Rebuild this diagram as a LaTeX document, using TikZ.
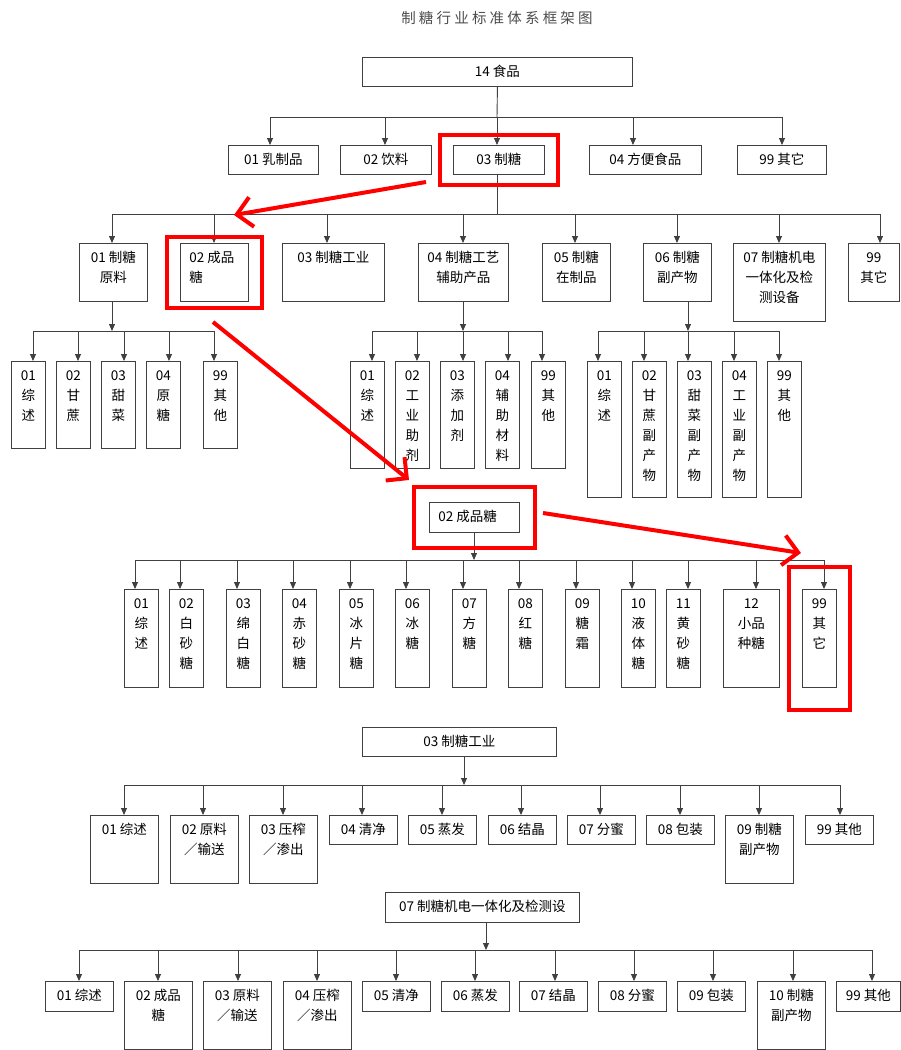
\documentclass[tikz,border=0pt]{standalone}
\usepackage{fontspec}
\setmainfont{Noto Sans CJK SC}
\newfontfamily\titlefont[LetterSpace=22]{Noto Sans CJK SC}
\usetikzlibrary{arrows.meta,fit}
\definecolor{boxgray}{gray}{0.25}
\definecolor{markred}{RGB}{255,0,0}
\newcommand{\cell}[4][\centering]{\parbox[t][#3pt][t]{#2pt}{#1\rule{0pt}{19pt}#4}}

\begin{document}
\begin{tikzpicture}[x=1pt,y=-1pt,>={Triangle[length=7pt,width=6pt]},
  cellbox/.style={draw=boxgray,line width=0.9pt,inner sep=0pt,anchor=north west,font=\fontsize{13.5}{20}\selectfont},
  link/.style={draw=boxgray,line width=0.9pt},
  hilite/.style={draw=markred,line width=4pt,inner sep=0pt},
  markarrow/.style={markred,line width=4pt,-{Straight Barb[length=15pt,width=30pt]}}]
  \useasboundingbox (0,0) rectangle (901,1050);
  \node[font=\titlefont\fontsize{14.5}{16}\selectfont,text=black!70] (title) at (497,18) {制糖行业标准体系框架图};

  % 14 food
  \node[cellbox] (food) at (362,57) {\cell{270}{29}{14 食品}};
  \coordinate (j0) at (497,117);
  \draw[link] (food.south) -- (j0);
  \foreach \n/\bx/\w/\ax/\lbl in {1/228/90/270/{01 乳制品}, 2/340/91/385/{02 饮料}, 3/453/91/497/{03 制糖}, 4/589/112/633/{04 方便食品}, 5/737/89/782/{99 其它}}{
    \node[cellbox] (c\n) at (\bx,145) {\cell{\w}{29}{\lbl}};
    \coordinate (jc\n) at (\ax,117);
    \draw[link,->] (jc\n) -- (jc\n |- c\n.north);
  }
  \draw[link] (jc1) -- (jc5);

  % 03 sugar
  \coordinate (j1) at (497,214);
  \draw[link] (c3.south -| j1) -- (j1);
  \foreach \n/\bx/\w/\h/\ax/\lbl in {1/79/68/58/112/{01 制糖\\原料}, 3/282/102/58/327/{03 制糖工业}, 4/418/90/58/463/{04 制糖工艺\\辅助产品}, 5/542/68/58/575/{05 制糖\\在制品}, 6/643/68/58/677/{06 制糖\\副产物}, 7/733/92/78/779/{07 制糖机电\\一体化及检\\测设备}, 8/848/51/58/880/{99\\其它}}{
    \node[cellbox] (d\n) at (\bx,243) {\cell{\w}{\h}{\lbl}};
    \coordinate (jd\n) at (\ax,214);
    \draw[link,->] (jd\n) -- (jd\n |- d\n.north);
  }
  \node[cellbox] (d2) at (180,243) {\cell[\raggedright\leftskip=9pt]{68}{58}{02 成品\\糖}};
  \coordinate (jd2) at (214,214);
  \draw[link,->] (jd2) -- (jd2 |- d2.north);
  \draw[link] (jd1) -- (jd8);

  % raw material
  \coordinate (ka) at (112,331);
  \draw[link,->] (ka |- d1.south) -- (ka);
  \foreach \n/\bx/\ax/\lbl in {1/11/33/{01\\综\\述}, 2/56/78/{02\\甘\\蔗}, 3/101/124/{03\\甜\\菜}, 4/146/169/{04\\原\\糖}, 5/203/214/{99\\其\\他}}{
    \node[cellbox] (a\n) at (\bx,361) {\cell{34}{87}{\lbl}};
    \coordinate (ja\n) at (\ax,331);
    \draw[link,->] (ja\n) -- (ja\n |- a\n.north);
  }
  \draw[link] (ja1) -- (ja5);

  % auxiliary products
  \coordinate (kb) at (463,331);
  \draw[link,->] (kb |- d4.south) -- (kb);
  \foreach \n/\bx/\ax/\lbl in {1/350/372/{01\\综\\述}, 2/395/417/{02\\工\\业\\助\\剂}, 3/440/463/{03\\添\\加\\剂}, 4/485/508/{04\\辅\\助\\材\\料}, 5/531/542/{99\\其\\他}}{
    \node[cellbox] (b\n) at (\bx,361) {\cell{34}{107}{\lbl}};
    \coordinate (jb\n) at (\ax,331);
    \draw[link,->] (jb\n) -- (jb\n |- b\n.north);
  }
  \draw[link] (jb1) -- (jb5);

  % by-products
  \coordinate (kc) at (688,331);
  \draw[link,->] (kc |- d6.south) -- (kc);
  \foreach \n/\bx/\ax/\lbl in {1/587/598/{01\\综\\述}, 2/632/644/{02\\甘\\蔗\\副\\产\\物}, 3/677/688/{03\\甜\\菜\\副\\产\\物}, 4/722/734/{04\\工\\业\\副\\产\\物}, 5/767/779/{99\\其\\他}}{
    \node[cellbox] (e\n) at (\bx,361) {\cell{34}{136}{\lbl}};
    \coordinate (je\n) at (\ax,331);
    \draw[link,->] (je\n) -- (je\n |- e\n.north);
  }
  \draw[link] (je1) -- (je5);

  % 02 finished sugar
  \node[cellbox] (sugar) at (429,502) {\cell[\raggedright\leftskip=9pt]{90}{30}{02 成品糖}};
  \coordinate (km) at (474,560);
  \draw[link,->] (km |- sugar.south) -- (km);
  \foreach \n/\bx/\w/\ax/\lbl in {1/124/34/135/{01\\综\\述}, 2/169/34/180/{02\\白\\砂\\糖}, 3/226/34/237/{03\\绵\\白\\糖}, 4/282/34/293/{04\\赤\\砂\\糖}, 5/339/34/350/{05\\冰\\片\\糖}, 6/395/34/406/{06\\冰\\糖}, 7/452/34/463/{07\\方\\糖}, 8/508/34/519/{08\\红\\糖}, 9/565/34/576/{09\\糖\\霜}, 10/621/34/632/{10\\液\\体\\糖}, 11/666/34/688/{11\\黄\\砂\\糖}, 12/723/56/756/{12\\小品\\种糖}, 99/802/34/824/{99\\其\\它}}{
    \node[cellbox] (m\n) at (\bx,589) {\cell{\w}{98}{\lbl}};
    \coordinate (jm\n) at (\ax,560);
    \draw[link,->] (jm\n) -- (jm\n |- m\n.north);
  }
  \draw[link] (jm1) -- (jm99);

  % 03 sugar industry
  \node[cellbox] (industry) at (362,727) {\cell{194}{29}{03 制糖工业}};
  \coordinate (ks) at (464,785);
  \draw[link,->] (ks |- industry.south) -- (ks);
  \foreach \n/\bx/\h/\ax/\lbl in {1/90/68/124/{01 综述}, 2/170/68/203/{02 原料\\／输送}, 3/249/68/283/{03 压榨\\／渗出}, 4/329/29/362/{04 清净}, 5/408/29/442/{05 蒸发}, 6/488/29/521/{06 结晶}, 7/567/29/600/{07 分蜜}, 8/646/29/680/{08 包装}, 9/725/68/759/{09 制糖\\副产物}, 99/805/29/840/{99 其他}}{
    \node[cellbox] (s\n) at (\bx,815) {\cell{68}{\h}{\lbl}};
    \coordinate (js\n) at (\ax,785);
    \draw[link,->] (js\n) -- (js\n |- s\n.north);
  }
  \draw[link] (js1) -- (js99);

  % 07 equipment
  \node[cellbox] (equip) at (385,892) {\cell{194}{30}{07 制糖机电一体化及检测设}};
  \coordinate (kt) at (486,950);
  \draw[link,->] (kt |- equip.south) -- (kt);
  \foreach \n/\bx/\w/\h/\ax/\lbl in {1/45/68/30/79/{01 综述}, 2/124/68/68/158/{02 成品\\糖}, 3/203/68/68/238/{03 原料\\／输送}, 4/283/68/68/317/{04 压榨\\／渗出}, 5/362/68/30/396/{05 清净}, 6/441/68/30/475/{06 蒸发}, 7/519/68/30/555/{07 结晶}, 8/598/68/30/634/{08 分蜜}, 9/677/68/30/713/{09 包装}, 10/757/68/68/793/{10 制糖\\副产物}, 99/836/64/30/872/{99 其他}}{
    \node[cellbox] (t\n) at (\bx,981) {\cell{\w}{\h}{\lbl}};
    \coordinate (jt\n) at (\ax,950);
    \draw[link,->] (jt\n) -- (jt\n |- t\n.north);
  }
  \draw[link] (jt1) -- (jt99);

  % red marks
  \node[hilite,fit=(c3),inner xsep=13pt,inner ysep=10.5pt] (mark1) {};
  \node[hilite,fit=(d2),inner xsep=13pt,inner ysep=6.5pt] (mark2) {};
  \node[hilite,fit=(sugar),inner xsep=15.5pt,inner ysep=15.5pt] (mark3) {};
  \node[hilite,fit=(m99),inner xsep=13pt,inner ysep=22.5pt] (mark4) {};
  \coordinate (p1) at (426,182);
  \coordinate (q1) at (234,215);
  \coordinate (p2) at (213,322);
  \coordinate (q2) at (409,480);
  \coordinate (p3) at (543,513);
  \coordinate (q3) at (801,553);
  \draw[markarrow] (p1) -- (q1);
  \draw[markarrow] (p2) -- (q2);
  \draw[markarrow] (p3) -- (q3);
\end{tikzpicture}
\end{document}
